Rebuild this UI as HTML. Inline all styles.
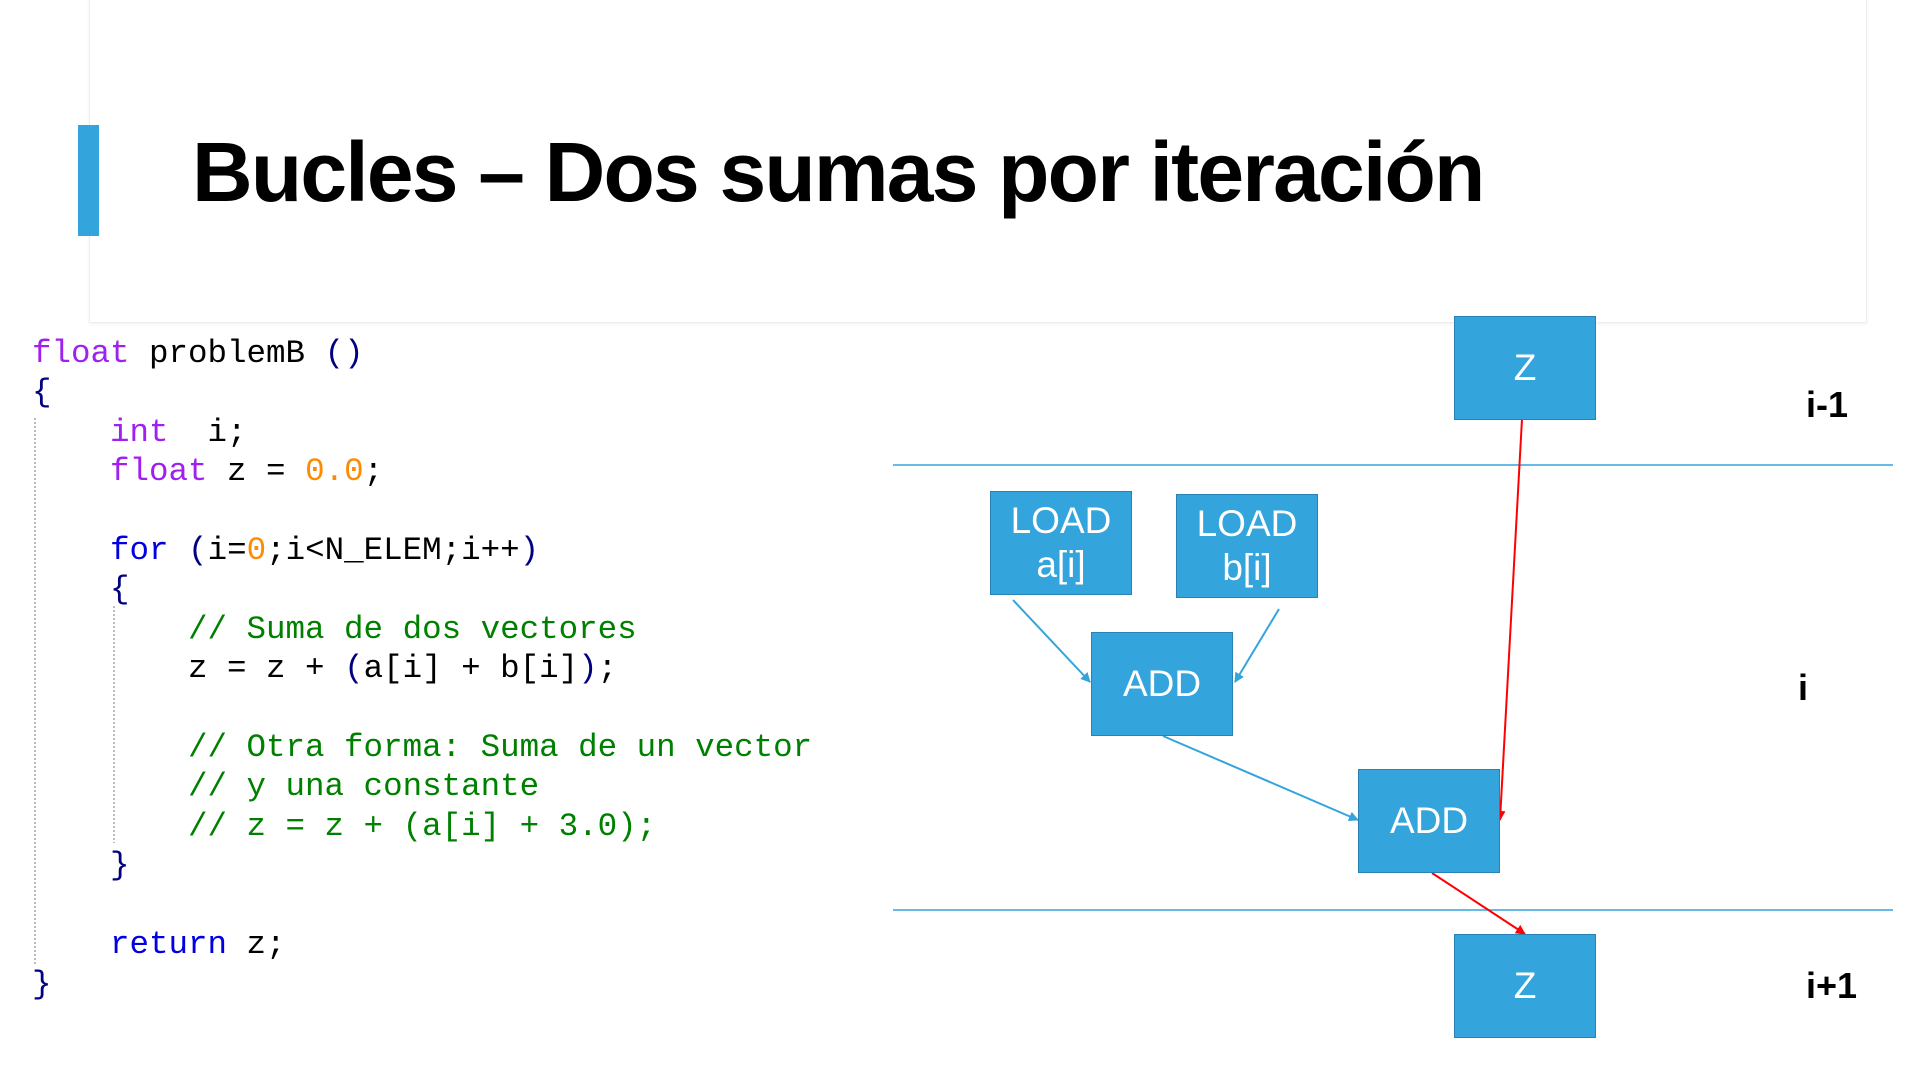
<!DOCTYPE html>
<html><head><meta charset="utf-8"><style>
body{margin:0;width:1920px;height:1080px;background:#fff;position:relative;overflow:hidden;font-family:"Liberation Sans",sans-serif}
.card{position:absolute;left:89px;top:-2px;width:1776px;height:323px;border:1px solid #eceff2;box-shadow:0 1px 3px rgba(0,0,0,0.06);background:#fff}
.bar{position:absolute;left:78px;top:125px;width:21px;height:111px;background:#34a4dc}
.title{position:absolute;left:192px;top:124px;font-size:84px;font-weight:bold;letter-spacing:-1.8px;color:#000;white-space:nowrap}
.code{position:absolute;left:32px;top:334px;font-family:"Liberation Mono",monospace;font-size:32.5px;line-height:39.4px;white-space:pre;color:#000}
.k{color:#a020f0}.b{color:#0000e0}.n{color:#ff8c00}.c{color:#008000}.p{color:#000080}
.box{position:absolute;background:#34a4dc;border:1.5px solid #2a82b4;color:#fff;font-size:37px;display:flex;align-items:center;justify-content:center;text-align:center;line-height:44px;box-sizing:border-box}
.lbl{position:absolute;font-weight:bold;font-size:36px;color:#000}
</style></head><body>
<div class="card"></div>
<div class="bar"></div>
<div class="title">Bucles – Dos sumas por iteración</div>
<div class="code"><span class="k">float</span> problemB <span class="p">()</span>
<span class="p">{</span>
    <span class="k">int</span>  i;
    <span class="k">float</span> z = <span class="n">0.0</span>;

    <span class="b">for</span> <span class="p">(</span>i=<span class="n">0</span>;i&lt;N_ELEM;i++<span class="p">)</span>
    <span class="p">{</span>
        <span class="c">// Suma de dos vectores</span>
        z = z + <span class="p">(</span>a[i] + b[i]<span class="p">)</span>;

        <span class="c">// Otra forma: Suma de un vector</span>
        <span class="c">// y una constante</span>
        <span class="c">// z = z + (a[i] + 3.0);</span>
    <span class="p">}</span>

    <span class="b">return</span> z;
<span class="p">}</span></div>
<svg style="position:absolute;left:0;top:0" width="1920" height="1080">
<line x1="35" y1="418" x2="35" y2="965" stroke="#bbb" stroke-width="2" stroke-dasharray="2,2"/>
<line x1="114" y1="606" x2="114" y2="843" stroke="#bbb" stroke-width="2" stroke-dasharray="2,2"/>
<line x1="893" y1="465" x2="1893" y2="465" stroke="#34a4dc" stroke-width="1.5"/>
<line x1="893" y1="910" x2="1893" y2="910" stroke="#34a4dc" stroke-width="1.5"/>
<defs>
<marker id="ab" markerWidth="10" markerHeight="10" refX="9" refY="5" orient="auto" markerUnits="userSpaceOnUse"><path d="M0,0 L10,5 L0,10 z" fill="#34a4dc"/></marker>
<marker id="ar" markerWidth="10" markerHeight="10" refX="9" refY="5" orient="auto" markerUnits="userSpaceOnUse"><path d="M0,0 L10,5 L0,10 z" fill="#f00"/></marker>
</defs>
<line x1="1013" y1="600" x2="1090" y2="682" stroke="#34a4dc" stroke-width="2" marker-end="url(#ab)"/>
<line x1="1279" y1="609" x2="1235" y2="682" stroke="#34a4dc" stroke-width="2" marker-end="url(#ab)"/>
<line x1="1163" y1="736" x2="1358" y2="820" stroke="#34a4dc" stroke-width="2" marker-end="url(#ab)"/>
<line x1="1522" y1="419" x2="1500" y2="820" stroke="#f00" stroke-width="2" marker-end="url(#ar)"/>
<line x1="1432" y1="873" x2="1525" y2="934" stroke="#f00" stroke-width="2" marker-end="url(#ar)"/>
</svg>
<div class="box" style="left:1454px;top:316px;width:142px;height:104px">Z</div>
<div class="box" style="left:990px;top:491px;width:142px;height:104px">LOAD<br>a[i]</div>
<div class="box" style="left:1176px;top:494px;width:142px;height:104px">LOAD<br>b[i]</div>
<div class="box" style="left:1091px;top:632px;width:142px;height:104px">ADD</div>
<div class="box" style="left:1358px;top:769px;width:142px;height:104px">ADD</div>
<div class="box" style="left:1454px;top:934px;width:142px;height:104px">Z</div>
<div class="lbl" style="left:1806px;top:384px">i-1</div>
<div class="lbl" style="left:1798px;top:667px">i</div>
<div class="lbl" style="left:1806px;top:965px">i+1</div>
</body></html>
